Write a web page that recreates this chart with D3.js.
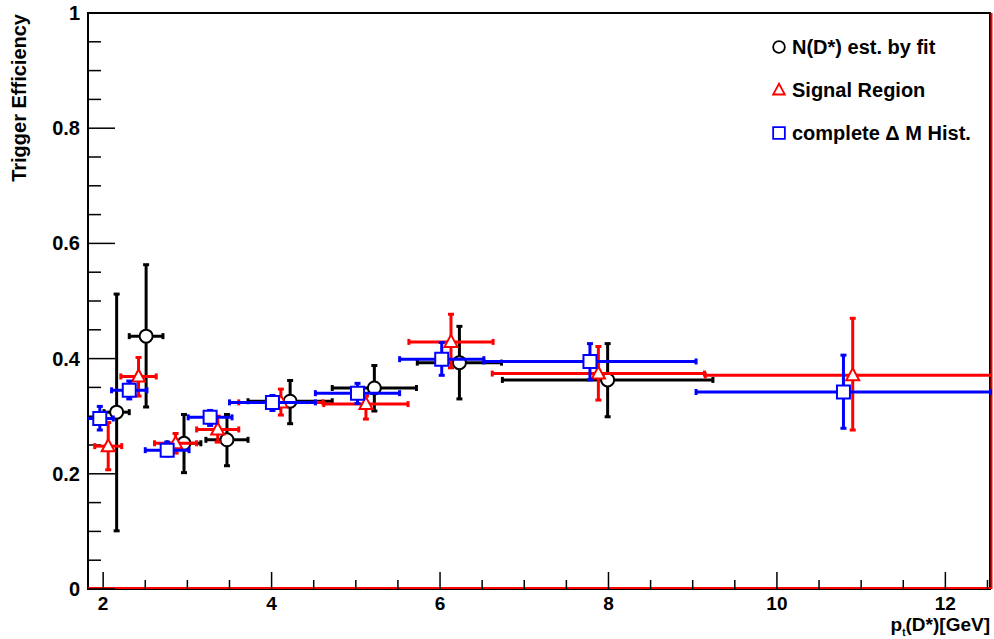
<!DOCTYPE html>
<html>
<head>
<meta charset="utf-8">
<script src="https://cdn.jsdelivr.net/npm/d3@7"></script>
<style>
  body { margin: 0; background: #fff; }
  text { font-family: "Liberation Sans", Arial, sans-serif; font-weight: bold; }
</style>
</head>
<body>
<div id="chart"></div>
<script>
// data: x, x half width, y, y err low, y err high
var fitX    = [2.16, 2.51, 2.96, 3.47, 4.22, 5.22, 6.23, 7.99];
var fitXErr = [0.15, 0.20, 0.20, 0.25, 0.50, 0.50, 0.50, 1.25];
var fitY    = [0.307, 0.439, 0.253, 0.259, 0.326, 0.349, 0.393, 0.363];
var fitYLo  = [0.206, 0.123, 0.051, 0.045, 0.039, 0.040, 0.063, 0.064];
var fitYHi  = [0.205, 0.124, 0.050, 0.044, 0.036, 0.039, 0.063, 0.063];

var sigX    = [2.06, 2.42, 2.86, 3.36, 4.11, 5.12, 6.13, 7.88, 10.90];
var sigXErr = [0.16, 0.21, 0.25, 0.25, 0.50, 0.50, 0.50, 1.26, 1.75];
var sigY    = [0.248, 0.369, 0.253, 0.277, 0.324, 0.321, 0.429, 0.374, 0.371];
var sigYLo  = [0.041, 0.034, 0.017, 0.022, 0.022, 0.026, 0.045, 0.046, 0.095];
var sigYHi  = [0.041, 0.033, 0.017, 0.023, 0.023, 0.014, 0.048, 0.047, 0.099];

var histX    = [1.96, 2.31, 2.76, 3.27, 4.01, 5.02, 6.02, 7.78, 10.79];
var histXErr = [0.16, 0.21, 0.26, 0.26, 0.51, 0.50, 0.50, 1.26, 1.75];
var histY    = [0.296, 0.345, 0.241, 0.298, 0.324, 0.340, 0.399, 0.395, 0.342];
var histYLo  = [0.020, 0.015, 0.010, 0.014, 0.014, 0.018, 0.028, 0.032, 0.063];
var histYHi  = [0.021, 0.016, 0.014, 0.012, 0.012, 0.017, 0.029, 0.031, 0.064];

var xTicks = [2, 4, 6, 8, 10, 12];
var yTicks = [0, 0.2, 0.4, 0.6, 0.8, 1];

var legendLabels = ["N(D*) est. by fit", "Signal Region", "complete \u0394 M Hist."];

var W = 994, H = 639;
var frame = {left: 88, top: 13, right: 990, bottom: 589};

var x = d3.scaleLinear().domain([1.82, 12.53]).range([frame.left, frame.right]);
var y = d3.scaleLinear().domain([0, 1]).range([frame.bottom, frame.top]);

var svg = d3.select("#chart").append("svg")
    .attr("width", W)
    .attr("height", H);

svg.append("defs").append("clipPath").attr("id", "clip")
  .append("rect")
    .attr("x", frame.left).attr("y", frame.top)
    .attr("width", frame.right - frame.left + 2)
    .attr("height", frame.bottom - frame.top);

// frame
svg.append("rect")
    .attr("x", frame.left).attr("y", frame.top)
    .attr("width", frame.right - frame.left)
    .attr("height", frame.bottom - frame.top)
    .attr("fill", "none").attr("stroke", "#000").attr("stroke-width", 2);

// red lines on right + bottom
svg.append("path")
    .attr("d", "M" + frame.left + "," + (frame.bottom - 1) + "H" + (frame.right + 1.5) + "V" + frame.top)
    .attr("fill", "none").attr("stroke", "#ff0000").attr("stroke-width", 2);

// ticks
var xMinor = d3.range(2, 12.51, 0.5);
svg.selectAll(".xtick").data(xMinor).enter().append("line")
    .attr("x1", function(d) { return x(d); })
    .attr("x2", function(d) { return x(d); })
    .attr("y1", frame.bottom)
    .attr("y2", function(d) { return frame.bottom - (d % 2 === 0 ? 17 : 9); })
    .attr("stroke", "#000").attr("stroke-width", 1.5);

var yMinor = d3.range(0, 1.001, 0.05);
svg.selectAll(".ytick").data(yMinor).enter().append("line")
    .attr("y1", function(d) { return y(d); })
    .attr("y2", function(d) { return y(d); })
    .attr("x1", frame.left)
    .attr("x2", function(d, i) { return frame.left + (i % 4 === 0 ? 27 : 13); })
    .attr("stroke", "#000").attr("stroke-width", 1.5);

svg.selectAll(".xlab").data(xTicks).enter().append("text")
    .attr("x", function(d) { return x(d); })
    .attr("y", 610)
    .attr("text-anchor", "middle")
    .style("font-size", "19px")
    .text(function(d) { return d; });

svg.selectAll(".ylab").data(yTicks).enter().append("text")
    .attr("x", 80)
    .attr("y", function(d) { return y(d) + 7; })
    .attr("text-anchor", "end")
    .style("font-size", "20px")
    .text(function(d) { return d; });

// axis titles
svg.append("text")
    .attr("transform", "translate(26,14) rotate(-90)")
    .attr("text-anchor", "end")
    .style("font-size", "20px")
    .text("Trigger Efficiency");

var xt = svg.append("text")
    .attr("x", 990).attr("y", 631)
    .attr("text-anchor", "end")
    .style("font-size", "19px");
xt.append("tspan").text("p");
xt.append("tspan").attr("dy", 5).style("font-size", "10px").text("t");
xt.append("tspan").attr("dy", -5).text("(D*)[GeV]");

var plot = svg.append("g").attr("clip-path", "url(#clip)");

function drawSeries(xs, xe, ys, lo, hi, color, shape) {
  var g = plot.append("g");
  var data = xs.map(function(v, i) {
    return {x: v, xe: xe[i], y: ys[i], lo: lo[i], hi: hi[i]};
  });
  var cap = 3;
  data.forEach(function(d) {
    var cx = x(d.x), cy = y(d.y);
    var x0 = x(d.x - d.xe), x1 = x(d.x + d.xe);
    var y0 = y(d.y - d.lo), y1 = y(d.y + d.hi);
    g.append("line").attr("x1", x0).attr("x2", x1).attr("y1", cy).attr("y2", cy)
      .attr("stroke", color).attr("stroke-width", 3);
    g.append("line").attr("x1", cx).attr("x2", cx).attr("y1", y0).attr("y2", y1)
      .attr("stroke", color).attr("stroke-width", 3);
    [x0, x1].forEach(function(px) {
      g.append("line").attr("x1", px).attr("x2", px).attr("y1", cy - cap).attr("y2", cy + cap)
        .attr("stroke", color).attr("stroke-width", 3);
    });
    [y0, y1].forEach(function(py) {
      g.append("line").attr("y1", py).attr("y2", py).attr("x1", cx - cap).attr("x2", cx + cap)
        .attr("stroke", color).attr("stroke-width", 3);
    });
  });
  g.selectAll(".m").data(data).enter().append("path")
    .attr("transform", function(d) { return "translate(" + x(d.x) + "," + y(d.y) + ")"; })
    .attr("d", markerPath(shape))
    .attr("fill", "#fff").attr("stroke", color).attr("stroke-width", 2);
}

function markerPath(shape) {
  if (shape === "circle") return "M-6.5,0A6.5,6.5 0 1,0 6.5,0A6.5,6.5 0 1,0 -6.5,0Z";
  if (shape === "triangle") return "M0,-7L6.5,5L-6.5,5Z";
  return "M-6.5,-6.5H6.5V6.5H-6.5Z";
}

drawSeries(fitX, fitXErr, fitY, fitYLo, fitYHi, "#000000", "circle");
drawSeries(sigX, sigXErr, sigY, sigYLo, sigYHi, "#ff0000", "triangle");
drawSeries(histX, histXErr, histY, histYLo, histYHi, "#0000ff", "square");

// legend
var legColors = ["#000000", "#ff0000", "#0000ff"];
var legShapes = ["circle", "triangle", "square"];
var leg = svg.append("g");
legendLabels.forEach(function(t, i) {
  var ly = 47 + i * 43;
  leg.append("path")
    .attr("transform", "translate(779," + ly + ") scale(0.9)")
    .attr("d", markerPath(legShapes[i]))
    .attr("fill", "none").attr("stroke", legColors[i]).attr("stroke-width", 2);
  leg.append("text")
    .attr("x", 792).attr("y", ly + 7)
    .style("font-size", "20px")
    .text(t);
});
</script>
</body>
</html>
